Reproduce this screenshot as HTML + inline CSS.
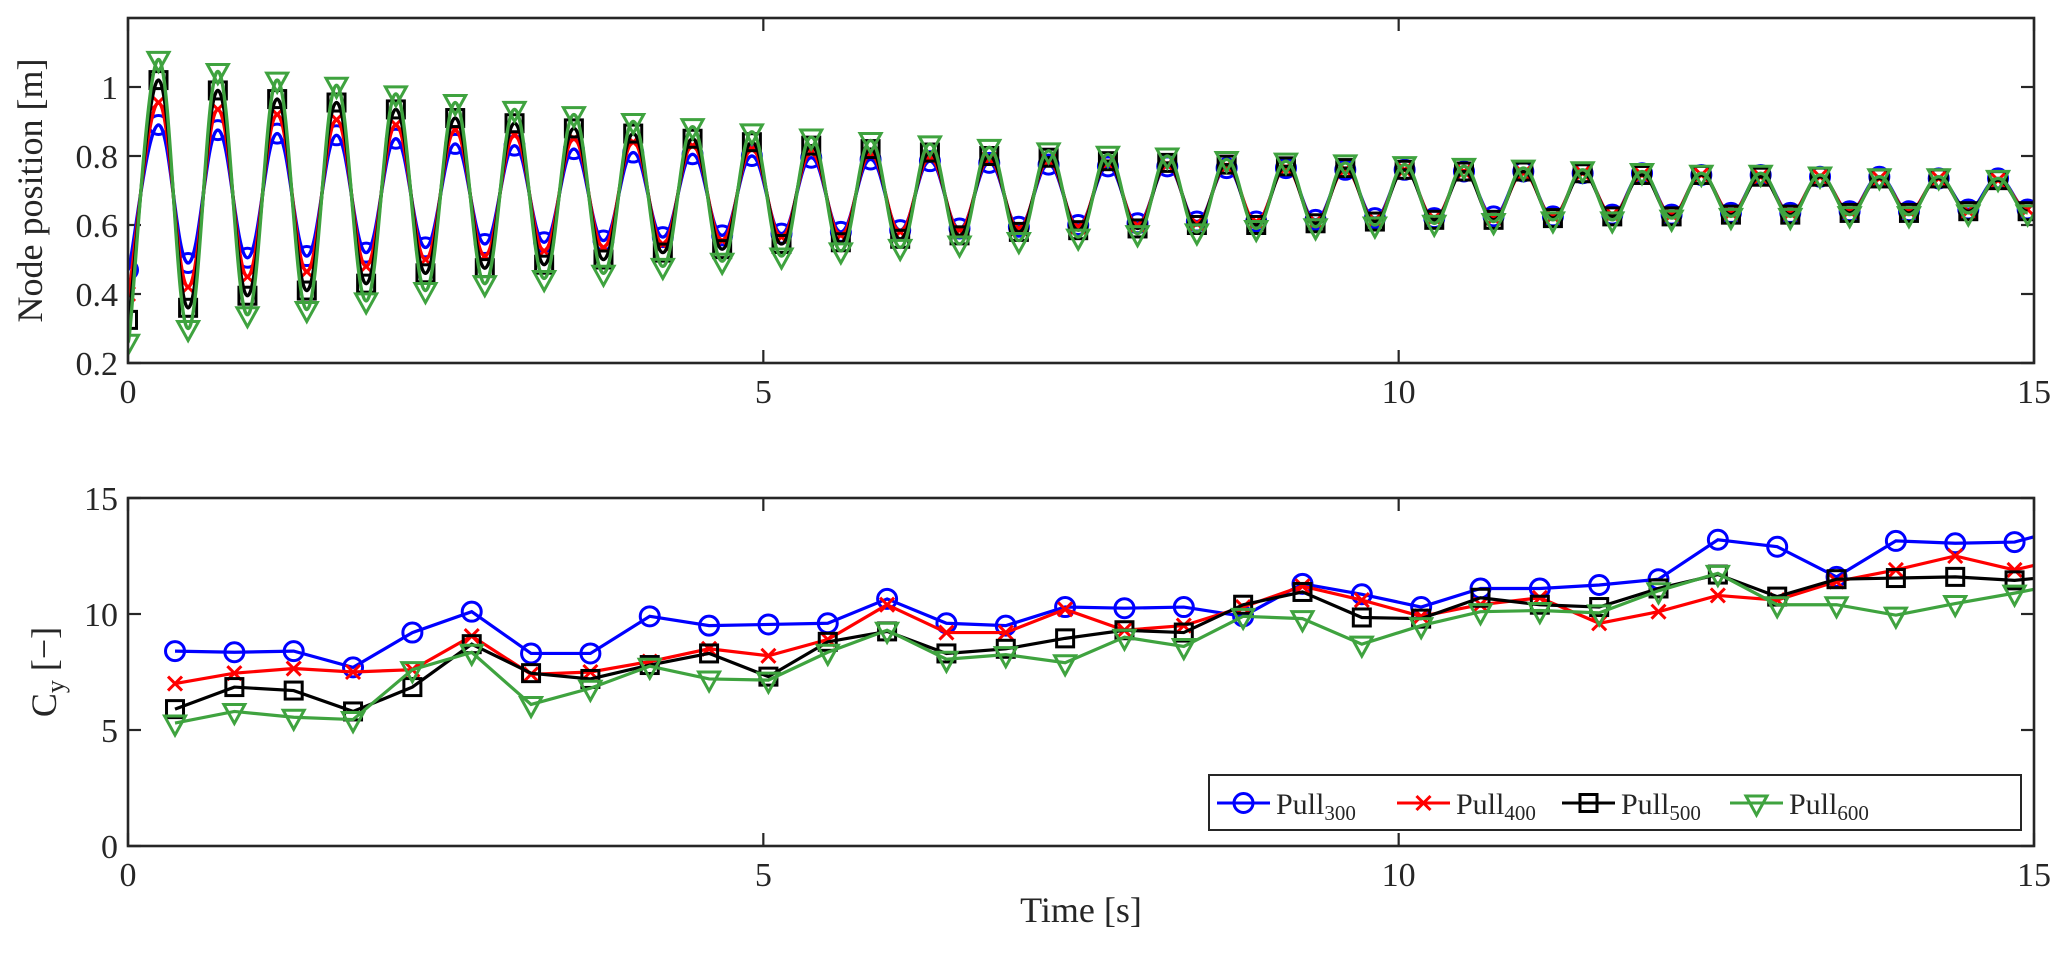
<!DOCTYPE html>
<html><head><meta charset="utf-8"><style>
body{margin:0;background:#fff;}
svg{display:block;font-family:"Liberation Serif",serif;}
</style></head><body>
<svg id="chart" width="2067" height="957" viewBox="0 0 2067 957" xmlns="http://www.w3.org/2000/svg"></svg>
<script>
const xTicks=[0,5,10,15];
const topYTicks=[0.2,0.4,0.6,0.8,1];
const topYTickLabels=["0.2","0.4","0.6","0.8","1"];
const botYTicks=[0,5,10,15];
const seriesNames=["300","400","500","600"];
const seriesColors=["#0000ff","#ff0000","#000000","#3fa33f"];
const markers=["circle","x","square","triangle"];
// top plot: start value, peak and trough values
const posStart=[0.47,0.40,0.325,0.26];
const peaks300=[0.89,0.875,0.865,0.86,0.85,0.835,0.83,0.82,0.81,0.805,0.80,0.795,0.79,0.785,0.78,0.775,0.77,0.77,0.765,0.765,0.76,0.76,0.755,0.755,0.75,0.75,0.745,0.745,0.74,0.74,0.735,0.735];
const troughs300=[0.49,0.505,0.51,0.52,0.535,0.545,0.55,0.555,0.565,0.57,0.575,0.58,0.585,0.59,0.595,0.60,0.605,0.61,0.61,0.615,0.62,0.62,0.625,0.625,0.63,0.63,0.635,0.635,0.64,0.64,0.645,0.645];
const peaks400=[0.955,0.935,0.92,0.905,0.89,0.875,0.86,0.85,0.84,0.83,0.82,0.81,0.805,0.795,0.79,0.785,0.78,0.775,0.77,0.765,0.76,0.76,0.755,0.75,0.75,0.745,0.745,0.74,0.74,0.735,0.735,0.73];
const troughs400=[0.42,0.45,0.465,0.48,0.50,0.51,0.525,0.535,0.545,0.555,0.565,0.57,0.58,0.585,0.59,0.595,0.60,0.605,0.61,0.61,0.615,0.62,0.62,0.625,0.63,0.63,0.635,0.635,0.64,0.64,0.64,0.645];
const peaks500=[1.02,0.99,0.965,0.955,0.935,0.91,0.895,0.88,0.865,0.85,0.84,0.83,0.82,0.81,0.80,0.795,0.785,0.78,0.775,0.77,0.765,0.76,0.755,0.755,0.75,0.745,0.745,0.74,0.74,0.735,0.735,0.73];
const troughs500=[0.36,0.395,0.41,0.43,0.46,0.475,0.485,0.50,0.52,0.53,0.545,0.55,0.56,0.57,0.58,0.585,0.59,0.60,0.60,0.605,0.61,0.615,0.615,0.62,0.625,0.625,0.63,0.63,0.635,0.635,0.64,0.64];
const peaks600=[1.08,1.045,1.02,1.005,0.98,0.955,0.935,0.92,0.90,0.885,0.87,0.855,0.845,0.835,0.825,0.815,0.805,0.80,0.79,0.785,0.78,0.775,0.77,0.765,0.76,0.755,0.75,0.75,0.745,0.74,0.74,0.735];
const troughs600=[0.30,0.34,0.355,0.38,0.41,0.43,0.445,0.46,0.48,0.495,0.51,0.525,0.535,0.545,0.555,0.565,0.575,0.58,0.59,0.595,0.60,0.605,0.61,0.615,0.615,0.62,0.625,0.625,0.63,0.63,0.635,0.635];
const peakTimes=[0.24,0.707,1.174,1.641,2.108,2.575,3.042,3.509,3.976,4.443,4.91,5.377,5.844,6.311,6.778,7.245,7.712,8.179,8.646,9.113,9.58,10.047,10.514,10.981,11.448,11.915,12.382,12.849,13.316,13.783,14.25,14.717];
const troughTimes=[0.473,0.94,1.407,1.874,2.341,2.808,3.275,3.742,4.209,4.676,5.143,5.61,6.077,6.544,7.011,7.478,7.945,8.412,8.879,9.346,9.813,10.28,10.747,11.214,11.681,12.148,12.615,13.082,13.549,14.016,14.483,14.95];
// bottom plot
const cyTimes=[0.37,0.837,1.304,1.771,2.238,2.705,3.172,3.639,4.106,4.573,5.04,5.507,5.974,6.441,6.908,7.375,7.842,8.309,8.776,9.243,9.71,10.177,10.644,11.111,11.578,12.045,12.512,12.979,13.446,13.913,14.38,14.847,15.314];
const cy300=[8.4,8.35,8.4,7.7,9.2,10.1,8.3,8.3,9.9,9.5,9.55,9.6,10.65,9.6,9.5,10.3,10.25,10.3,9.9,11.3,10.85,10.3,11.1,11.1,11.25,11.5,13.2,12.9,11.6,13.15,13.05,13.1,13.8];
const cy400=[7.0,7.45,7.65,7.5,7.6,9.05,7.4,7.5,7.95,8.5,8.2,8.9,10.4,9.2,9.2,10.2,9.3,9.5,10.3,11.2,10.6,9.9,10.4,10.7,9.6,10.1,10.8,10.6,11.4,11.9,12.5,11.9,12.5];
const cy500=[5.9,6.85,6.7,5.8,6.85,8.7,7.45,7.2,7.8,8.3,7.3,8.8,9.25,8.3,8.5,8.95,9.3,9.2,10.4,10.95,9.85,9.8,10.7,10.4,10.3,11.1,11.7,10.75,11.5,11.55,11.6,11.45,11.7];
const cy600=[5.3,5.8,5.55,5.45,7.6,8.35,6.1,6.8,7.75,7.2,7.15,8.35,9.3,8.05,8.25,7.9,9.0,8.6,9.9,9.8,8.7,9.5,10.1,10.15,10.05,11.0,11.75,10.4,10.4,9.95,10.45,10.9,11.4];

const NS="http://www.w3.org/2000/svg";
const svg=document.getElementById('chart');
const X0=128,X1=2034;
const T={y0:18,y1:363,min:0.2,max:1.2};
const B={y0:498,y1:846,min:0,max:15};
const xs=t=>X0+(t/15)*(X1-X0);
const ysT=v=>T.y1-(v-T.min)/(T.max-T.min)*(T.y1-T.y0);
const ysB=v=>B.y1-(v-B.min)/(B.max-B.min)*(B.y1-B.y0);
function mk(tag,attrs,parent){const e=document.createElementNS(NS,tag);for(const k in attrs)e.setAttribute(k,attrs[k]);(parent||svg).appendChild(e);return e;}
const defs=mk('defs',{});
const c1=mk('clipPath',{id:'clipT'},defs);mk('rect',{x:X0,y:T.y0,width:X1-X0,height:T.y1-T.y0},c1);
const c2=mk('clipPath',{id:'clipB'},defs);mk('rect',{x:X0,y:B.y0,width:X1-X0,height:B.y1-B.y0},c2);

function marker(g,type,x,y,color,name){
  let e;
  if(type==='circle') e=mk('circle',{cx:x,cy:y,r:9.5,fill:'none',stroke:color,'stroke-width':3},g);
  else if(type==='x') e=mk('path',{d:`M${x-7},${y-7}L${x+7},${y+7}M${x-7},${y+7}L${x+7},${y-7}`,stroke:color,'stroke-width':3,fill:'none'},g);
  else if(type==='square') e=mk('rect',{x:x-8.5,y:y-8.5,width:17,height:17,fill:'none',stroke:color,'stroke-width':3},g);
  else e=mk('path',{d:`M${x-10.5},${y-7}L${x+10.5},${y-7}L${x},${y+12}Z`,fill:'none',stroke:color,'stroke-width':3},g);
  
  
}

function axes(p,yTicks,yLabels,ysc,name){
  const g=mk('g',{});
  
  
  xTicks.forEach(t=>{
    const x=xs(t);
    mk('line',{x1:x,y1:p.y1,x2:x,y2:p.y1-13,stroke:'#262626','stroke-width':2.2},g);
    mk('line',{x1:x,y1:p.y0,x2:x,y2:p.y0+13,stroke:'#262626','stroke-width':2.2},g);
    const tx=mk('text',{x:x,y:p.y1+40,'font-size':34,'text-anchor':'middle',fill:'#262626'},g);
    tx.textContent=String(t);
    
    
  });
  yTicks.forEach((v,i)=>{
    const y=ysc(v);
    mk('line',{x1:X0,y1:y,x2:X0+13,y2:y,stroke:'#262626','stroke-width':2.2},g);
    mk('line',{x1:X1,y1:y,x2:X1-13,y2:y,stroke:'#262626','stroke-width':2.2},g);
    const tx=mk('text',{x:X0-10,y:y+12,'font-size':34,'text-anchor':'end',fill:'#262626'},g);
    tx.textContent=yLabels[i];
    
    
  });
}

// top plot
axes(T,topYTicks,topYTickLabels,ysT,'top-axes');
const topPk=[peaks300,peaks400,peaks500,peaks600], topTr=[troughs300,troughs400,troughs500,troughs600];
[0,1,2,3].forEach(s=>{
  const pts=[[0,posStart[s]]];
  for(let k=0;k<peakTimes.length;k++){pts.push([peakTimes[k],topPk[s][k]]);pts.push([troughTimes[k],topTr[s][k]]);}
  let d=`M${xs(pts[0][0])},${ysT(pts[0][1])}`;
  for(let i=1;i<pts.length;i++){
    const xa=xs(pts[i-1][0]),ya=ysT(pts[i-1][1]),xb=xs(pts[i][0]),yb=ysT(pts[i][1]);
    const dx=(xb-xa)*0.4;
    d+=`C${xa+(i===1?dx*0.3:dx)},${ya} ${xb-dx},${yb} ${xb},${yb}`;
  }
  const g=mk('g',{'clip-path':'url(#clipT)'});
  
  
  mk('path',{d:d,fill:'none',stroke:seriesColors[s],'stroke-width':3.4},g);
  pts.forEach(p=>marker(g,markers[s],xs(p[0]),ysT(p[1]),seriesColors[s],'position-marker'));
});

// bottom plot
axes(B,botYTicks,botYTicks.map(String),ysB,'bottom-axes');
const cys=[cy300,cy400,cy500,cy600];
cys.forEach((arr,s)=>{
  const g=mk('g',{'clip-path':'url(#clipB)'});
  
  
  const pts=cyTimes.map((t,i)=>xs(t)+','+ysB(arr[i])).join(' ');
  mk('polyline',{points:pts,fill:'none',stroke:seriesColors[s],'stroke-width':3.2},g);
  cyTimes.forEach((t,i)=>marker(g,markers[s],xs(t),ysB(arr[i]),seriesColors[s],'cy-marker'));
});

// frames
[T,B].forEach((p,i)=>{
  const r=mk('rect',{x:X0,y:p.y0,width:X1-X0,height:p.y1-p.y0,fill:'none',stroke:'#262626','stroke-width':2.6});
  
  
});

// labels
let t1=mk('text',{x:0,y:0,'font-size':36,'text-anchor':'middle',fill:'#262626',transform:`translate(42,${(T.y0+T.y1)/2}) rotate(-90)`});
t1.textContent='Node position [m]';


let t2=mk('text',{x:0,y:0,'font-size':36,'text-anchor':'middle',fill:'#262626',transform:`translate(56,${(B.y0+B.y1)/2}) rotate(-90)`});
t2.innerHTML='C<tspan font-size="26" dy="8">y</tspan><tspan dy="-8"> [−]</tspan>';


let t3=mk('text',{x:(X0+X1)/2,y:922,'font-size':36,'text-anchor':'middle',fill:'#262626'});
t3.textContent='Time [s]';



// legend
const lg=mk('g',{});


mk('rect',{x:1209,y:775,width:812,height:55,fill:'#fff',stroke:'#262626','stroke-width':2},lg);
const legX=[1217,1397,1562,1730];
seriesNames.forEach((n,s)=>{
  const eg=mk('g',{},lg);
  
  
  const x=legX[s],y=803;
  mk('line',{x1:x,y1:y,x2:x+53,y2:y,stroke:seriesColors[s],'stroke-width':3},eg);
  marker(eg,markers[s],x+26.5,y,seriesColors[s],'legend-marker');
  const tx=mk('text',{x:x+59,y:y+11,'font-size':30,fill:'#262626'},eg);
  tx.innerHTML='Pull<tspan font-size="21" dy="6">'+n+'</tspan>';
});
</script>
</body></html>
